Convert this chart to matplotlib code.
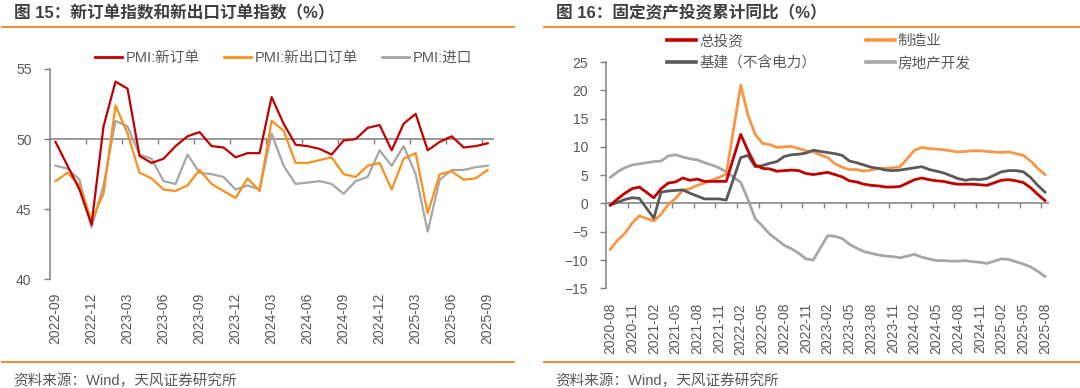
import matplotlib
matplotlib.use('Agg')
import matplotlib.pyplot as plt
from matplotlib.lines import Line2D
import pandas as pd

plt.rcParams['font.family'] = ['Liberation Sans', 'Noto Sans CJK SC']

# ---------------- data: left chart (PMI) ----------------
pmi_start = '2022-09'
pmi_end = '2025-09'
pmi_new_orders = [49.8, 48.1, 46.4, 43.9, 50.9, 54.1, 53.6, 48.8, 48.3, 48.6, 49.5, 50.2,
                  50.5, 49.5, 49.4, 48.7, 49.0, 49.0, 53.0, 51.1, 49.6, 49.5, 49.3, 48.9,
                  49.9, 50.0, 50.8, 51.0, 49.2, 51.1, 51.8, 49.2, 49.8, 50.2, 49.4, 49.5, 49.7]
pmi_export_orders = [47.0, 47.6, 46.7, 44.2, 46.1, 52.4, 50.4, 47.6, 47.2, 46.4, 46.3, 46.7,
                     47.8, 46.8, 46.3, 45.8, 47.2, 46.3, 51.3, 50.6, 48.3, 48.3, 48.5, 48.7,
                     47.5, 47.3, 48.1, 48.3, 46.4, 48.6, 49.0, 44.7, 47.5, 47.7, 47.1, 47.2, 47.8]
pmi_imports = [48.1, 47.9, 47.1, 43.7, 46.7, 51.3, 50.9, 48.9, 48.6, 47.0, 46.8, 48.9,
               47.6, 47.5, 47.3, 46.4, 46.7, 46.4, 50.4, 48.1, 46.8, 46.9, 47.0, 46.8,
               46.1, 47.0, 47.3, 49.2, 48.1, 49.5, 47.5, 43.4, 47.1, 47.8, 47.8, 48.0, 48.1]
pmi_labels = ['PMI:新订单', 'PMI:新出口订单', 'PMI:进口']
pmi_tick_labels = ['2022-09', '2022-12', '2023-03', '2023-06', '2023-09', '2023-12', '2024-03',
                   '2024-06', '2024-09', '2024-12', '2025-03', '2025-06', '2025-09']
pmi_yticks = [40, 45, 50, 55]

# ---------------- data: right chart (FAI, cumulative YoY, no January) ----------------
fai_start = '2020-08'
fai_end = '2025-08'
fai_total = [-0.3, 0.8, 1.8, 2.6, 2.9,
             1.0, 2.6, 3.6, 3.8, 4.5, 4.1, 4.3, 3.9, 3.9, 3.9, 3.9,
             12.2, 9.3, 6.8, 6.2, 6.1, 5.7, 5.8, 5.9, 5.8, 5.3, 5.1,
             5.5, 5.1, 4.7, 4.0, 3.8, 3.4, 3.2, 3.1, 2.9, 2.9, 3.0,
             4.2, 4.5, 4.2, 4.0, 3.9, 3.6, 3.4, 3.4, 3.4, 3.3, 3.2,
             4.1, 4.2, 4.0, 3.7, 2.8, 1.6, 0.5]
fai_manufacturing = [-8.1, -6.5, -5.3, -3.5, -2.2,
                     -3.1, -1.9, -0.2, 0.9, 2.3, 2.6, 3.2, 3.6, 4.1, 4.6, 5.2,
                     20.9, 15.6, 12.2, 10.6, 10.4, 9.9, 10.0, 10.1, 9.7, 9.3, 9.1,
                     8.1, 7.0, 6.4, 6.0, 6.0, 5.7, 5.9, 6.2, 6.2, 6.3, 6.5,
                     9.4, 9.9, 9.7, 9.6, 9.5, 9.3, 9.1, 9.2, 9.3, 9.3, 9.2,
                     9.0, 9.1, 8.8, 8.5, 7.5, 6.2, 5.1]
fai_infra = [-0.3, 0.2, 0.7, 1.0, 0.9,
             -2.6, 2.0, 2.2, 2.3, 2.4, 1.8, 1.3, 0.8, 0.8, 0.8, 0.6,
             8.1, 8.5, 6.5, 6.7, 7.1, 7.4, 8.3, 8.6, 8.7, 8.9, 9.4,
             9.0, 8.8, 8.5, 7.5, 7.2, 6.8, 6.4, 6.2, 5.9, 5.8, 5.9,
             6.3, 6.5, 6.0, 5.7, 5.4, 4.9, 4.4, 4.1, 4.3, 4.2, 4.4,
             5.6, 5.8, 5.8, 5.6, 4.6, 3.2, 2.0]
fai_realestate = [4.6, 5.6, 6.3, 6.8, 7.0,
                  7.4, 7.5, 8.4, 8.6, 8.2, 7.9, 7.7, 7.2, 6.8, 6.3, 5.6,
                  3.7, 0.7, -2.7, -4.0, -5.4, -6.4, -7.4, -8.0, -8.8, -9.8, -10.0,
                  -5.7, -5.8, -6.2, -7.2, -7.9, -8.5, -8.8, -9.1, -9.3, -9.4, -9.6,
                  -9.0, -9.5, -9.8, -10.1, -10.1, -10.2, -10.2, -10.1, -10.3, -10.4, -10.6,
                  -9.8, -9.9, -10.3, -10.7, -11.2, -12.0, -12.9]
fai_labels = ['总投资', '制造业', '基建（不含电力）', '房地产开发']
fai_tick_labels = ['2020-08', '2020-11', '2021-02', '2021-05', '2021-08', '2021-11', '2022-02',
                   '2022-05', '2022-08', '2022-11', '2023-02', '2023-05', '2023-08', '2023-11',
                   '2024-02', '2024-05', '2024-08', '2024-11', '2025-02', '2025-05', '2025-08']
fai_yticks = [-15, -10, -5, 0, 5, 10, 15, 20, 25]

# ---------------- helpers ----------------
W, H = 1080, 388
AX_GRAY = '#7F7F7F'
TXT_GRAY = '#595959'
ORANGE_RULE = '#F08221'


def month_pos(months, start):
    s = pd.Period(start, freq='M')
    return [(pd.Period(m, freq='M') - s).n for m in months]


def fig_rect(x0, y0, x1, y1):
    return [x0 / W, 1 - y1 / H, (x1 - x0) / W, (y1 - y0) / H]


fig = plt.figure(figsize=(W / 100, H / 100), dpi=100)

# ---------------- left chart ----------------
pmi_months = pd.period_range(pmi_start, pmi_end, freq='M')
px = month_pos(pmi_months, pmi_start)
axL = fig.add_axes(fig_rect(49.5, 69, 493.7, 279.3))
lw = 1.6
axL.plot(px, pmi_new_orders, color='#C00000', lw=lw, label=pmi_labels[0], zorder=4)
axL.plot(px, pmi_export_orders, color='#F7901E', lw=lw, label=pmi_labels[1], zorder=3)
axL.plot(px, pmi_imports, color='#A6A6A6', lw=lw, label=pmi_labels[2], zorder=2)
axL.set_xlim(-0.5, 36.5)
axL.set_ylim(40, 55)
axL.set_yticks(pmi_yticks)
lpos = month_pos(pmi_tick_labels, pmi_start)
axL.set_xticks(lpos, pmi_tick_labels, rotation=90)
axL.axhline(50, color=AX_GRAY, lw=1.1, zorder=1)
tick_x = [p - 0.5 for p in lpos[1:]]
axL.plot(tick_x, [50] * len(tick_x), ls='none', marker=3, ms=3.5, mew=1.0,
         color=AX_GRAY, clip_on=False, zorder=1)

# ---------------- right chart ----------------
fai_months = [p for p in pd.period_range(fai_start, fai_end, freq='M') if p.month != 1]
fx = month_pos(fai_months, fai_start)
axR = fig.add_axes(fig_rect(606, 62, 1048.6, 288.3))
lw2 = 2.0
hT, = axR.plot(fx, fai_total, color='#C00000', lw=lw2, label=fai_labels[0], zorder=5)
hM, = axR.plot(fx, fai_manufacturing, color='#F79646', lw=lw2, label=fai_labels[1], zorder=3)
hI, = axR.plot(fx, fai_infra, color='#595959', lw=lw2, label=fai_labels[2], zorder=4)
hR, = axR.plot(fx, fai_realestate, color='#A6A6A6', lw=lw2, label=fai_labels[3], zorder=2)
axR.set_xlim(-0.6, 60.5)
axR.set_ylim(-15, 25)
axR.set_yticks(fai_yticks)
rpos = month_pos(fai_tick_labels, fai_start)
axR.set_xticks(rpos, fai_tick_labels, rotation=90)
axR.axhline(0, color=AX_GRAY, lw=1.1, zorder=1)
tick_x2 = [p - 0.5 for p in rpos[1:]]
axR.plot(tick_x2, [0] * len(tick_x2), ls='none', marker=3, ms=3.5, mew=1.0,
         color=AX_GRAY, clip_on=False, zorder=1)

for ax, pad in ((axL, 9.5), (axR, 10.5)):
    for s in ('top', 'right', 'bottom'):
        ax.spines[s].set_visible(False)
    ax.spines['left'].set_color(AX_GRAY)
    ax.spines['left'].set_linewidth(1.1)
    ax.tick_params(axis='x', length=0, pad=pad, labelsize=10, labelcolor=TXT_GRAY)
    ax.tick_params(axis='y', length=4, width=1.0, color=AX_GRAY, pad=9,
                   labelsize=10, labelcolor=TXT_GRAY, direction='out')
    ax.set_facecolor('none')

# ---------------- legends ----------------
legL = axL.legend(loc='center left', bbox_to_anchor=(95 / W, 1 - 57.7 / H),
                  bbox_transform=fig.transFigure, ncol=3, frameon=False,
                  borderpad=0, borderaxespad=0, handlelength=1.85, handletextpad=0.25,
                  columnspacing=1.65, fontsize=10.5)
for t in legL.get_texts():
    t.set_color(TXT_GRAY)
for h in legL.legend_handles:
    h.set_linewidth(2.0)

legR = axR.legend([hT, hI, hM, hR], [fai_labels[0], fai_labels[2], fai_labels[1], fai_labels[3]],
                  loc='center left', bbox_to_anchor=(667 / W, 1 - 52.2 / H),
                  bbox_transform=fig.transFigure, ncol=2, frameon=False,
                  borderpad=0, borderaxespad=0, handlelength=2.0, handletextpad=0.2,
                  columnspacing=3.4, labelspacing=0.55, fontsize=10.5)
for t in legR.get_texts():
    t.set_color(TXT_GRAY)
for h in legR.legend_handles:
    h.set_linewidth(2.6)

# ---------------- titles, rules, sources ----------------
title_kw = dict(fontsize=12, fontweight='bold', color='#3F3F3F', va='center', ha='left')
fig.text(13.5 / W, 1 - 13 / H, '图 15：新订单指数和新出口订单指数（%）', **title_kw)
fig.text(556 / W, 1 - 13 / H, '图 16：固定资产投资累计同比（%）', **title_kw)

for (x0, x1) in ((1.5, 514), (544, 1080)):
    for y in (26.5, 361.7):
        fig.add_artist(Line2D([x0 / W, x1 / W], [1 - y / H, 1 - y / H],
                              color=ORANGE_RULE, lw=1.3, transform=fig.transFigure))

src_kw = dict(fontsize=10.5, color=TXT_GRAY, va='center', ha='left')
fig.text(13.5 / W, 1 - 380.5 / H, '资料来源：Wind，天风证券研究所', **src_kw)
fig.text(555.5 / W, 1 - 380.5 / H, '资料来源：Wind，天风证券研究所', **src_kw)

fig.savefig('out.png', dpi=100, facecolor='white')
